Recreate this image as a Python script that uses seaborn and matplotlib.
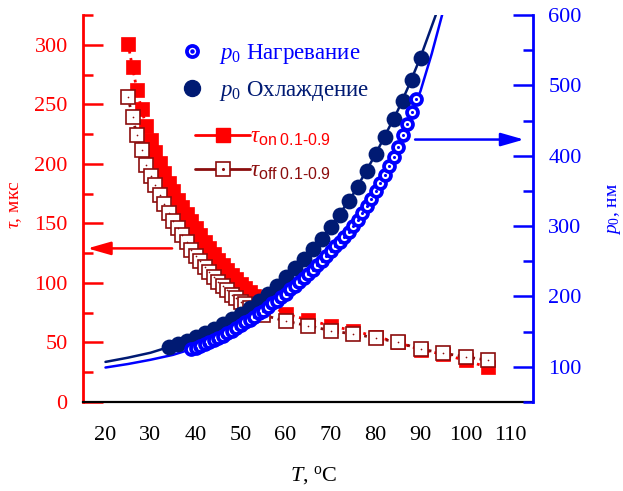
import matplotlib
matplotlib.use("Agg")
import matplotlib.pyplot as plt
import seaborn as sns
from matplotlib.lines import Line2D
from matplotlib.ticker import MultipleLocator

# ---------------------------------------------------------------------------
# data
# ---------------------------------------------------------------------------
t_on = list(range(25, 54)) + [60, 65, 70, 75, 80, 85, 90, 95, 100, 105]
tau_on = [301, 281, 262, 246, 232, 220, 210, 201, 192, 184, 177, 170, 164, 158, 152,
          146, 140, 134, 129, 124, 119, 115, 111, 107, 103, 99, 96, 92, 89,
          74, 69, 64, 60, 55, 50, 44, 40, 35, 29]

t_off = list(range(25, 56)) + [60, 65, 70, 75, 80, 85, 90, 95, 100, 105]
tau_off = [256, 239, 224, 212, 199, 190, 182, 174, 166, 159, 152, 146, 140, 134, 128,
           123, 118, 113, 109, 105, 101, 97, 94, 90, 87, 84, 82, 79, 77, 75, 73,
           68, 64, 60, 57, 54, 50, 44.5, 41, 38, 35]

t_heat = list(range(39, 90))
p_heat = [125, 127, 130, 132, 135, 138, 141, 144, 148, 151, 155, 159, 163, 167, 171,
          176, 180, 185, 190, 194, 199, 204, 210, 215, 221, 226, 232, 238, 244, 251,
          257, 264, 271, 278, 285, 292, 300, 309, 318, 328, 339, 350, 361, 373, 385,
          398, 413, 429, 445, 462, 480]

t_cool = list(range(34, 91, 2))
p_cool = [128, 132, 137, 142, 148, 154, 161, 168, 175, 184, 193, 204, 215, 227, 240,
          253, 267, 282, 298, 316, 335, 356, 378, 402, 427, 452, 478, 507, 539]

fit_t_heat = [20, 25, 30, 35, 40, 45, 50, 55, 60, 65, 70, 75, 80, 85, 87.5, 90, 92.5, 94.8]
fit_p_heat = [99, 104, 110, 117, 127, 141, 159, 180, 204, 232, 264, 300, 350, 412, 450, 492, 545, 600]

fit_t_cool = [20, 25, 30, 35, 40, 45, 50, 55, 60, 65, 70, 75, 80, 85, 87.5, 90, 91.7, 93.4]
fit_p_cool = [107, 113, 120, 130, 142, 157, 175, 198, 227, 260, 298, 345, 402, 465, 501, 540, 570, 600]

RED = "#ff0000"
DARKRED = "#8b0d0d"
BLUE = "#0000ff"
NAVY = "#001a73"

sns.set_theme(style="white")
plt.rcParams["font.family"] = ["Liberation Serif", "DejaVu Serif"]
plt.rcParams["mathtext.fontset"] = "custom"
plt.rcParams["mathtext.rm"] = "Liberation Serif"
plt.rcParams["mathtext.it"] = "Liberation Serif:italic"
plt.rcParams["mathtext.sf"] = "Liberation Sans"

fig = plt.figure(figsize=(6.23, 4.91), dpi=100)
ax1 = fig.add_axes([83 / 623, 89 / 491, 450 / 623, 387 / 491])
ax2 = ax1.twinx()

# ---------------------------------------------------------------------------
# tau (left axis)
# ---------------------------------------------------------------------------
sns.lineplot(x=t_on, y=tau_on, ax=ax1, color=RED, linestyle=":", linewidth=2,
             marker="s", markersize=10, markerfacecolor=RED, markeredgecolor=RED,
             markeredgewidth=0.5, sort=False, zorder=3)
sns.lineplot(x=t_off, y=tau_off, ax=ax1, color=DARKRED, linestyle=":", linewidth=2,
             marker="s", markersize=9.5, markerfacecolor="white", markeredgecolor=DARKRED,
             markeredgewidth=1.2, sort=False, zorder=4)
sns.scatterplot(x=t_off, y=tau_off, ax=ax1, color=DARKRED, s=1.5, linewidth=0, zorder=5)

ax1.set_xlim(15, 115)
ax1.set_ylim(0, 325)
ax1.xaxis.set_major_locator(MultipleLocator(10))
ax1.xaxis.set_minor_locator(MultipleLocator(5))
ax1.yaxis.set_major_locator(MultipleLocator(50))
ax1.yaxis.set_minor_locator(MultipleLocator(25))
ax1.set_xticks(range(20, 111, 10))
ax1.set_xticklabels([str(v) for v in range(20, 111, 10)])

ax1.tick_params(axis="x", which="major", direction="in", length=14.5, width=1.6,
                colors="black", labelsize=16, pad=17)
ax1.tick_params(axis="x", which="minor", direction="in", length=7.5, width=1.6, colors="black")
ax1.tick_params(axis="y", which="major", direction="in", length=14.5, width=1.8,
                colors=RED, labelsize=16, pad=11)
ax1.tick_params(axis="y", which="minor", direction="in", length=7.5, width=1.8, colors=RED)

ax1.spines["top"].set_visible(False)
ax1.spines["right"].set_visible(False)
ax1.spines["left"].set_color(RED)
ax1.spines["left"].set_linewidth(2)
ax1.spines["bottom"].set_color("black")
ax1.spines["bottom"].set_linewidth(1.6)

ax1.set_xlabel(r"$T$, $^{\rm o}$C", fontsize=16, color="black")
ax1.xaxis.set_label_coords(0.513, -0.16)
ax1.set_ylabel(r"$\tau$, мкс", fontsize=14, color=RED)
ax1.yaxis.set_label_coords(-0.13, 0.51)

ax1.annotate("", xy=(16.0, 129), xytext=(34.8, 129),
             arrowprops=dict(arrowstyle="-|>,head_length=0.7,head_width=0.2",
                             color=RED, lw=1.8, mutation_scale=20, shrinkA=0, shrinkB=0))

# ---------------------------------------------------------------------------
# p0 (right axis)
# ---------------------------------------------------------------------------
sns.lineplot(x=fit_t_cool, y=fit_p_cool, ax=ax2, color=NAVY, linewidth=1.8, zorder=2)
sns.lineplot(x=fit_t_heat, y=fit_p_heat, ax=ax2, color=BLUE, linewidth=1.8, zorder=2)
sns.scatterplot(x=t_cool, y=p_cool, ax=ax2, color=NAVY, s=130, linewidth=0, zorder=3)
sns.scatterplot(x=t_heat, y=p_heat, ax=ax2, facecolor="white", edgecolor=BLUE,
                s=62, linewidth=2.7, zorder=4)
sns.scatterplot(x=t_heat, y=p_heat, ax=ax2, color=BLUE, s=5, linewidth=0, zorder=5)

ax2.set_ylim(50, 600)
ax2.yaxis.set_major_locator(MultipleLocator(100))
ax2.yaxis.set_minor_locator(MultipleLocator(50))
ax2.set_yticks(range(100, 601, 100))
ax2.tick_params(axis="y", which="major", direction="in", length=14.5, width=1.8,
                colors=BLUE, labelsize=16, pad=11)
ax2.tick_params(axis="y", which="minor", direction="in", length=7.5, width=1.8, colors=BLUE)
for side in ["top", "left", "bottom"]:
    ax2.spines[side].set_visible(False)
ax2.spines["right"].set_color(BLUE)
ax2.spines["right"].set_linewidth(2)
ax2.set_ylabel(r"$p_0$, нм", fontsize=14, color=BLUE)
ax2.yaxis.set_label_coords(1.163, 0.50)

ax2.annotate("", xy=(113.0, 423), xytext=(88.8, 423),
             arrowprops=dict(arrowstyle="-|>,head_length=0.7,head_width=0.2",
                             color=BLUE, lw=1.8, mutation_scale=20, shrinkA=0, shrinkB=0))

# ---------------------------------------------------------------------------
# legends
# ---------------------------------------------------------------------------
ring = Line2D([], [], linestyle="none", marker="o", markersize=8, markerfacecolor="white",
              markeredgecolor=BLUE, markeredgewidth=2.7)
ring_dot = Line2D([], [], linestyle="none", marker="o", markersize=2.2, color=BLUE)
dot_navy = Line2D([], [], linestyle="none", marker="o", markersize=11.5, color=NAVY)
leg1 = ax2.legend([(ring, ring_dot), dot_navy],
                  [r"$p_0$ Нагревание", r"$p_0$ Охлаждение"],
                  loc="upper left", bbox_to_anchor=(178 / 623, 1 - 42 / 491),
                  bbox_transform=fig.transFigure, frameon=False, fontsize=16.5,
                  handlelength=1.2, handletextpad=0.6, labelspacing=0.55,
                  borderpad=0, borderaxespad=0)
leg1.get_texts()[0].set_color(BLUE)
leg1.get_texts()[1].set_color(NAVY)
ax2.add_artist(leg1)

on_h = Line2D([], [], color=RED, linewidth=2, marker="s", markersize=10,
              markerfacecolor=RED, markeredgecolor=RED)
off_h = Line2D([], [], color=DARKRED, linewidth=2, marker="s", markersize=9.5,
               markerfacecolor="white", markeredgecolor=DARKRED, markeredgewidth=1.2)
off_dot = Line2D([], [], linestyle="none", marker="o", markersize=1.2, color=DARKRED)
leg2 = ax2.legend([on_h, (off_h, off_dot)],
                  [r"$\tau_{\mathsf{on\ 0.1‐0.9}}$", r"$\tau_{\mathsf{off\ 0.1‐0.9}}$"],
                  loc="upper left", bbox_to_anchor=(195 / 623, 1 - 127 / 491),
                  bbox_transform=fig.transFigure, frameon=False, fontsize=16.5,
                  handlelength=2.4, handletextpad=0.0, labelspacing=0.55,
                  borderpad=0, borderaxespad=0)
leg2.get_texts()[0].set_color(RED)
leg2.get_texts()[1].set_color(DARKRED)

fig.savefig("out.png", dpi=100)
